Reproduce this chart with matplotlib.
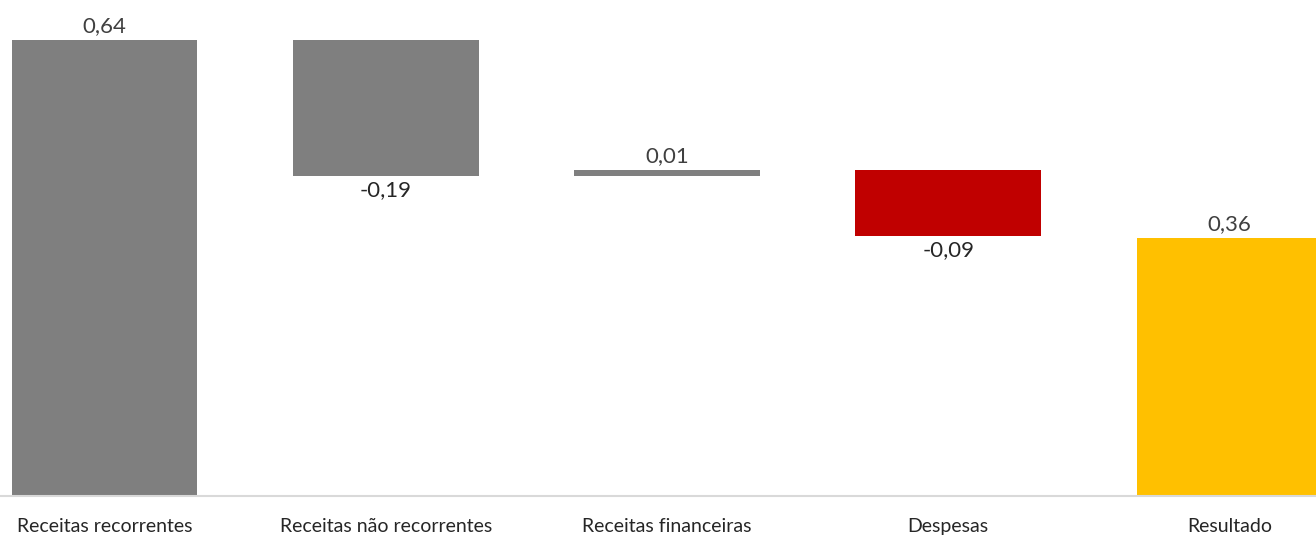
import matplotlib.pyplot as plt

plt.rcParams['font.family'] = ['Lato', 'DejaVu Sans']

categories = ['Receitas recorrentes', 'Receitas não recorrentes', 'Receitas financeiras', 'Despesas', 'Resultado']
steps = [0.64, -0.191, 0.0085, -0.0925]
result = 0.362
colors = ['#7F7F7F', '#7F7F7F', '#7F7F7F', '#C00000', '#FFC000']

# waterfall: bottoms and heights
bottoms = []
heights = []
running = 0.0
for v in steps:
    if v >= 0:
        bottoms.append(running)
    else:
        bottoms.append(running + v)
    heights.append(abs(v))
    running += v
bottoms.append(0.0)
heights.append(result)
values = steps + [result]

fig = plt.figure(figsize=(13.16, 5.36), dpi=100)
ax = fig.add_axes([0, 40 / 536, 1, 496 / 536])

x = range(len(categories))
ax.bar(x, heights, bottom=bottoms, width=0.66, color=colors)

for i, v in enumerate(values):
    txt = f'{v:.2f}'.replace('.', ',')
    if v >= 0:
        ax.annotate(txt, (i, bottoms[i] + heights[i]), xytext=(0, 3), textcoords='offset points',
                    ha='center', va='bottom', fontsize=16, color='#404040')
    else:
        ax.annotate(txt, (i, bottoms[i]), xytext=(0, -3), textcoords='offset points',
                    ha='center', va='top', fontsize=16, color='#262626')

ax.set_xlim(-104.5 / 281.25, (1316 - 104.5) / 281.25)
ax.set_ylim(0, 496 / 712.5)
ax.set_xticks(list(x))
ax.set_xticklabels(categories, fontsize=14, color='#262626')
ax.tick_params(axis='x', length=0, pad=16)
ax.set_yticks([])
for s in ['top', 'right', 'left']:
    ax.spines[s].set_visible(False)
ax.spines['bottom'].set_color('#D9D9D9')
ax.spines['bottom'].set_linewidth(1.5)

fig.savefig('out.png', dpi=100)
